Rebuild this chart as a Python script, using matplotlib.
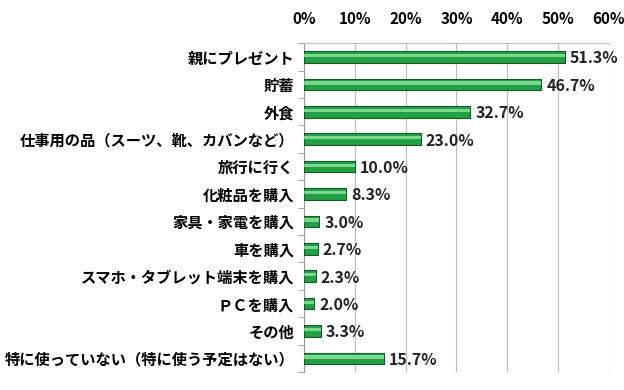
import matplotlib.pyplot as plt
import numpy as np

plt.rcParams['font.family'] = ['Noto Sans CJK JP', 'DejaVu Sans']

categories = ['親にプレゼント', '貯蓄', '外食', '仕事用の品（スーツ、靴、カバンなど）',
              '旅行に行く', '化粧品を購入', '家具・家電を購入', '車を購入',
              'スマホ・タブレット端末を購入', 'ＰＣを購入', 'その他',
              '特に使っていない（特に使う予定はない）']
values = [51.3, 46.7, 32.7, 23.0, 10.0, 8.3, 3.0, 2.7, 2.3, 2.0, 3.3, 15.7]
xticks = [0, 10, 20, 30, 40, 50, 60]

fig = plt.figure(figsize=(6.24, 3.9), dpi=100)
ax = fig.add_axes([0.487, 0.046, 0.489, 0.843])

y = np.arange(len(categories))
h = 0.42
# main bar with darker edge, then highlight stripe for the cylinder look
ax.barh(y, values, height=h, color='#23a045', edgecolor='#145a25', linewidth=0.8, zorder=3)
ax.barh(y - h * 0.12, values, height=h * 0.28, color='#8ee6a4', linewidth=0, zorder=4, alpha=0.8)

for yi, v in zip(y, values):
    ax.text(v + 1.0, yi + 0.05, f'{v:.1f}%', va='center', ha='left',
            fontsize=11.5, fontweight='bold', color='#222222')

ax.set_xlim(0, 60)
ax.set_ylim(len(categories) - 0.5, -0.5)
ax.set_xticks(xticks)
ax.set_xticklabels([f'{t}%' for t in xticks], fontsize=11, fontweight='bold')
ax.xaxis.tick_top()
ax.tick_params(axis='x', length=0, pad=12)
ax.set_yticks(y)
ax.set_yticklabels(categories, fontsize=11, fontweight='bold')
ax.tick_params(axis='y', length=0, pad=7)
ax.set_yticks(np.arange(len(categories) + 1) - 0.5, minor=True)
ax.tick_params(axis='y', which='minor', length=4, color='#999999')
ax.grid(axis='x', color='#bbbbbb', linewidth=0.8, zorder=0)
for s in ['right', 'bottom']:
    ax.spines[s].set_visible(False)
ax.spines['left'].set_color('#999999')
ax.spines['top'].set_color('#bbbbbb')

fig.savefig('out.png', dpi=100)
